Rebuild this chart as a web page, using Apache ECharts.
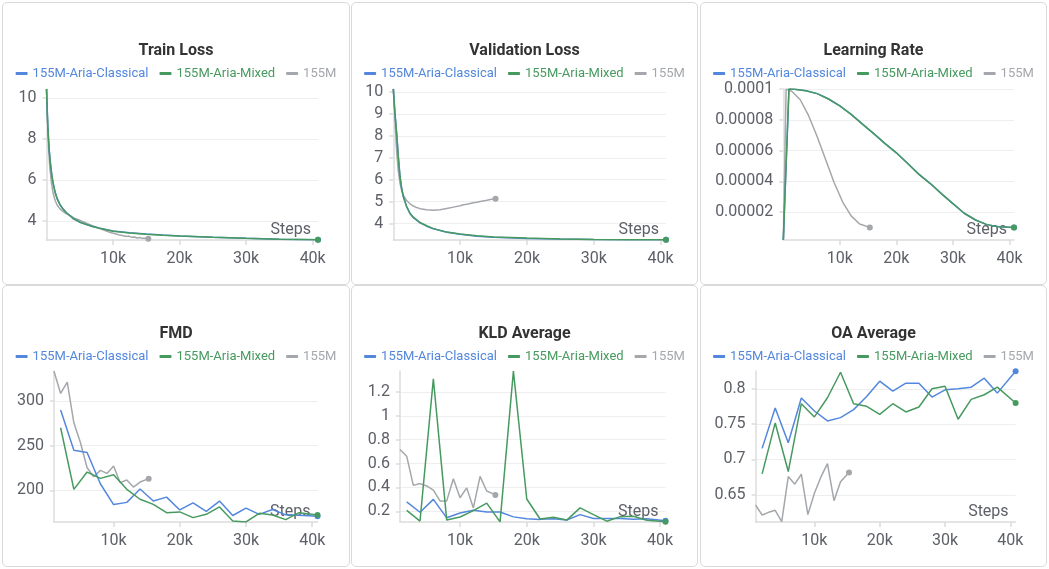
<!DOCTYPE html>
<html>
<head>
<meta charset="utf-8">
<script src="https://cdn.jsdelivr.net/npm/echarts@6/dist/echarts.min.js"></script>
<style>
  html, body { margin: 0; padding: 0; background: #ffffff; }
  body { width: 1049px; height: 569px; position: relative; overflow: hidden; }
  .panel { position: absolute; box-sizing: border-box; border: 1px solid #dadada; border-radius: 5px; background: #fff; }
  .chart { position: absolute; }
</style>
</head>
<body>
<div class="panel" style="left:2px;top:2px;width:348px;height:283px"></div>
<div class="panel" style="left:351px;top:2px;width:347px;height:283px"></div>
<div class="panel" style="left:700px;top:2px;width:347px;height:283px"></div>
<div class="panel" style="left:2px;top:285px;width:348px;height:282px"></div>
<div class="panel" style="left:351px;top:285px;width:347px;height:282px"></div>
<div class="panel" style="left:700px;top:285px;width:347px;height:282px"></div>

<div class="chart" id="c0" style="left:2px;top:2px;width:348px;height:283px"></div>
<div class="chart" id="c1" style="left:351px;top:2px;width:347px;height:283px"></div>
<div class="chart" id="c2" style="left:700px;top:2px;width:347px;height:283px"></div>
<div class="chart" id="c3" style="left:2px;top:285px;width:348px;height:282px"></div>
<div class="chart" id="c4" style="left:351px;top:285px;width:347px;height:282px"></div>
<div class="chart" id="c5" style="left:700px;top:285px;width:347px;height:282px"></div>

<script>
// ---------------- DATA ----------------
const runNames = ['155M-Aria-Classical', '155M-Aria-Mixed', '155M'];
const stepTicks = [10000, 20000, 30000, 40000];

// Train loss
const trainStepsAria = [0, 200, 400, 600, 800, 1000, 1300, 1600, 2000, 2500, 3000, 4000, 5000, 6000, 7000, 8000, 10000, 12500, 15000, 17500, 20000, 25000, 30000, 35000, 40800];
const trainLossClassical = [10.44, 8.55, 7.45, 6.75, 6.2, 5.82, 5.38, 5.08, 4.8, 4.57, 4.4, 4.12, 3.95, 3.83, 3.73, 3.65, 3.51, 3.42, 3.36, 3.31, 3.27, 3.2, 3.15, 3.11, 3.08];
const trainLossMixed = [10.44, 8.6, 7.5, 6.8, 6.25, 5.85, 5.4, 5.1, 4.82, 4.58, 4.4, 4.12, 3.94, 3.82, 3.72, 3.64, 3.5, 3.41, 3.35, 3.3, 3.26, 3.2, 3.15, 3.11, 3.08];
const trainSteps155M = [0, 150, 300, 500, 750, 1000, 1300, 1600, 2000, 2500, 3000, 3300, 3600, 3900, 4200, 4500, 4800, 5100, 5400, 5700, 6000, 6300, 6600, 6900, 7200, 7500, 7800, 8100, 8400, 8700, 9000, 9300, 9600, 9900, 10200, 10500, 10800, 11100, 11400, 11700, 12000, 12400, 12800, 13200, 13600, 14000, 14400, 14800, 15300];
const trainLoss155M = [10.44, 8.9, 7.6, 6.6, 5.85, 5.35, 5.0, 4.78, 4.6, 4.45, 4.35, 4.4, 4.26, 4.3, 4.14, 4.19, 4.06, 4.11, 3.98, 4.02, 3.89, 3.93, 3.81, 3.84, 3.73, 3.76, 3.65, 3.68, 3.58, 3.6, 3.51, 3.53, 3.44, 3.46, 3.39, 3.4, 3.33, 3.35, 3.29, 3.3, 3.24, 3.26, 3.2, 3.22, 3.17, 3.19, 3.15, 3.16, 3.13];
const trainLossTicks = [4, 6, 8, 10];

// Validation loss
const valStepsAria = [0, 250, 500, 750, 1000, 1250, 1500, 2000, 2500, 3000, 4000, 5000, 6000, 8000, 10000, 12500, 15000, 20000, 25000, 30000, 35000, 40800];
const valLossClassical = [10.14, 9.0, 8.1, 7.05, 6.15, 5.6, 5.22, 4.76, 4.45, 4.27, 4.03, 3.88, 3.76, 3.6, 3.51, 3.42, 3.37, 3.32, 3.29, 3.27, 3.26, 3.26];
const valLossMixed = [10.14, 9.05, 8.13, 7.06, 6.15, 5.62, 5.24, 4.78, 4.47, 4.29, 4.05, 3.9, 3.77, 3.61, 3.52, 3.44, 3.39, 3.34, 3.3, 3.27, 3.26, 3.26];
const valSteps155M = [0, 250, 500, 750, 1000, 1250, 1500, 2000, 2500, 3000, 3500, 4000, 5000, 6000, 7000, 8000, 9000, 10000, 10500, 11000, 12000, 12500, 13000, 14000, 14500, 15300];
const valLoss155M = [10.14, 8.7, 7.3, 6.4, 5.85, 5.5, 5.3, 5.05, 4.9, 4.8, 4.73, 4.68, 4.63, 4.61, 4.63, 4.69, 4.75, 4.81, 4.86, 4.88, 4.95, 4.97, 5.01, 5.06, 5.1, 5.13];
const valLossTicks = [4, 5, 6, 7, 8, 9, 10];

// Learning rate
const lrStepsAria = [0, 1000, 2000, 4000, 6000, 8000, 10000, 12000, 14000, 16000, 18000, 20000, 22000, 24000, 26000, 28000, 30000, 32000, 34000, 36000, 38000, 40800];
const lrAria = [0.0000018, 0.0001, 0.0000998, 0.0000988, 0.000097, 0.0000935, 0.000089, 0.0000835, 0.0000772, 0.000071, 0.0000645, 0.0000585, 0.0000515, 0.0000445, 0.0000385, 0.0000318, 0.0000255, 0.0000192, 0.0000148, 0.0000118, 0.0000104, 0.00001];
const lrSteps155M = [0, 500, 1500, 3000, 4500, 6000, 7500, 9000, 10500, 12000, 13500, 15300];
const lr155M = [0.0000018, 0.0001, 0.0000985, 0.000093, 0.0000825, 0.000069, 0.000054, 0.000039, 0.0000265, 0.0000175, 0.0000122, 0.00001];
const lrTicks = [0.00002, 0.00004, 0.00006, 0.00008, 0.0001];

// Evaluation metrics
const evalStepsAria = [2000, 4000, 6000, 8000, 10000, 12000, 14000, 16000, 18000, 20000, 22000, 24000, 26000, 28000, 30000, 32000, 34000, 36000, 38000, 40800];
const evalSteps155M = [1000, 2000, 3000, 4000, 5000, 6000, 7000, 8000, 9000, 10000, 11000, 12000, 13000, 14000, 15300];

const fmdClassical = [290.0, 245.0, 242.5, 207.4, 184.0, 186.5, 201.5, 188.0, 192.4, 178.0, 186.0, 176.5, 188.0, 171.8, 180.0, 173.0, 178.5, 172.5, 172.0, 171.0];
const fmdMixed = [270.2, 201.1, 220.5, 213.4, 217.5, 201.1, 190.0, 184.3, 175.0, 175.8, 169.4, 173.1, 181.4, 165.7, 164.6, 174.3, 172.4, 167.2, 175.0, 172.3];
const fmd155M = [333.6, 308.6, 321.3, 275.7, 253.4, 225.4, 215.3, 222.4, 219.0, 227.2, 208.6, 211.6, 203.7, 209.3, 213.1];
const fmdTicks = [200, 250, 300];

const kldClassical = [0.278, 0.192, 0.300, 0.145, 0.185, 0.208, 0.194, 0.194, 0.153, 0.137, 0.132, 0.138, 0.127, 0.172, 0.139, 0.140, 0.139, 0.133, 0.138, 0.121];
const kldMixed = [0.208, 0.118, 1.31, 0.126, 0.152, 0.205, 0.268, 0.111, 1.375, 0.303, 0.135, 0.150, 0.126, 0.228, 0.172, 0.117, 0.155, 0.158, 0.125, 0.112];
const kld155M = [0.718, 0.662, 0.417, 0.432, 0.412, 0.378, 0.287, 0.287, 0.472, 0.313, 0.396, 0.228, 0.493, 0.370, 0.337];
const kldTicks = [0.2, 0.4, 0.6, 0.8, 1, 1.2];

const oaClassical = [0.7157, 0.7728, 0.7236, 0.7869, 0.7686, 0.7545, 0.7592, 0.7705, 0.7892, 0.8108, 0.7967, 0.8080, 0.8080, 0.7883, 0.7986, 0.8000, 0.8023, 0.8150, 0.7939, 0.8248];
const oaMixed = [0.6796, 0.7517, 0.6829, 0.7789, 0.7602, 0.7873, 0.8234, 0.7789, 0.7752, 0.7639, 0.7789, 0.7672, 0.7742, 0.8000, 0.8037, 0.7569, 0.7850, 0.7916, 0.8023, 0.7799];
const oa155M = [0.6355, 0.6214, 0.6252, 0.6280, 0.6120, 0.6758, 0.6650, 0.6791, 0.6219, 0.6523, 0.6753, 0.6941, 0.6416, 0.6683, 0.6814];
const oaTicks = [0.65, 0.7, 0.75, 0.8];

// ---------------- STYLE ----------------
const COLORS = { '155M-Aria-Classical': '#5387DD', '155M-Aria-Mixed': '#479A5F', '155M': '#A4A7AB' };
const FONT = 'Roboto, "Noto Sans", sans-serif';
const LABEL = '#5e6068';
const AXIS = '#dcdcdc';

function pairs(xs, ys) { return xs.map((x, i) => [x, ys[i]]); }

function lineSeries(name, xs, ys) {
  const last = xs.length - 1;
  return {
    type: 'line', name: name, data: pairs(xs, ys), color: COLORS[name],
    lineStyle: { width: 1.5, color: COLORS[name] },
    itemStyle: { color: COLORS[name] },
    symbol: 'circle', showSymbol: true,
    symbolSize: (v, p) => (p.dataIndex === last ? 6 : 0),
    silent: true, animation: false, emphasis: { disabled: true }
  };
}

function panel(id, title, series, xr, yr, yTicks, grid) {
  const chart = echarts.init(document.getElementById(id), null, { renderer: 'canvas' });
  chart.setOption({
    animation: false,
    textStyle: { fontFamily: FONT },
    title: {
      text: title, left: 'center', top: 36,
      textStyle: { fontSize: 16, fontWeight: 'bold', color: '#333333', fontFamily: FONT }
    },
    legend: {
      top: 60, left: 'center', icon: 'roundRect', itemWidth: 12, itemHeight: 3, itemGap: 11,
      selectedMode: false,
      textStyle: { fontSize: 13, fontFamily: FONT },
      data: runNames.map(n => ({ name: n, textStyle: { color: COLORS[n] } }))
    },
    grid: { left: grid[0], top: grid[1], width: grid[2], height: grid[3], containLabel: false },
    xAxis: {
      type: 'value', min: xr[0], max: xr[1],
      name: 'Steps', nameLocation: 'end', nameGap: -7,
      nameTextStyle: { align: 'right', verticalAlign: 'bottom', fontSize: 16, color: LABEL, fontFamily: FONT, padding: [0, 0, 2, 0] },
      axisLine: { show: true, lineStyle: { color: AXIS, width: 1.5 } },
      axisTick: { show: true, customValues: stepTicks, length: 5, lineStyle: { color: AXIS, width: 1.5 } },
      axisLabel: { customValues: stepTicks, formatter: v => (v / 1000) + 'k', fontSize: 16, color: LABEL, fontFamily: FONT, margin: 11 },
      splitLine: { show: false }
    },
    yAxis: {
      type: 'value', min: yr[0], max: yr[1],
      axisLine: { show: true, lineStyle: { color: AXIS, width: 1.5 } },
      axisTick: { show: true, customValues: yTicks, length: 4, lineStyle: { color: AXIS, width: 1.5 } },
      axisLabel: { customValues: yTicks, formatter: v => String(v), fontSize: 16, color: LABEL, fontFamily: FONT, margin: 10 },
      splitLine: { show: true, lineStyle: { color: '#eeeeee', width: 1 } }
    },
    series: series
  });
}

panel('c0', 'Train Loss', [
  lineSeries('155M', trainSteps155M, trainLoss155M),
  lineSeries('155M-Aria-Classical', trainStepsAria, trainLossClassical),
  lineSeries('155M-Aria-Mixed', trainStepsAria, trainLossMixed)
], [0, 40800], [3.07, 10.44], trainLossTicks, [44.5, 87, 271.5, 151]);

panel('c1', 'Validation Loss', [
  lineSeries('155M', valSteps155M, valLoss155M),
  lineSeries('155M-Aria-Classical', valStepsAria, valLossClassical),
  lineSeries('155M-Aria-Mixed', valStepsAria, valLossMixed)
], [0, 40800], [3.25, 10.14], valLossTicks, [42.3, 87, 272.7, 151]);

panel('c2', 'Learning Rate', [
  lineSeries('155M', lrSteps155M, lr155M),
  lineSeries('155M-Aria-Classical', lrStepsAria, lrAria),
  lineSeries('155M-Aria-Mixed', lrStepsAria, lrAria)
], [0, 40800], [0.0000018, 0.0001], lrTicks, [83.3, 87, 230.7, 151]);

panel('c3', 'FMD', [
  lineSeries('155M', evalSteps155M, fmd155M),
  lineSeries('155M-Aria-Classical', evalStepsAria, fmdClassical),
  lineSeries('155M-Aria-Mixed', evalStepsAria, fmdMixed)
], [1000, 40800], [164.5, 333.8], fmdTicks, [52, 86, 263.5, 151]);

panel('c4', 'KLD Average', [
  lineSeries('155M', evalSteps155M, kld155M),
  lineSeries('155M-Aria-Classical', evalStepsAria, kldClassical),
  lineSeries('155M-Aria-Mixed', evalStepsAria, kldMixed)
], [1000, 40800], [0.11, 1.376], kldTicks, [49, 86, 265.5, 151]);

panel('c5', 'OA Average', [
  lineSeries('155M', evalSteps155M, oa155M),
  lineSeries('155M-Aria-Classical', evalStepsAria, oaClassical),
  lineSeries('155M-Aria-Mixed', evalStepsAria, oaMixed)
], [1000, 40800], [0.6115, 0.8252], oaTicks, [55.6, 86, 260, 151]);
</script>
</body>
</html>
